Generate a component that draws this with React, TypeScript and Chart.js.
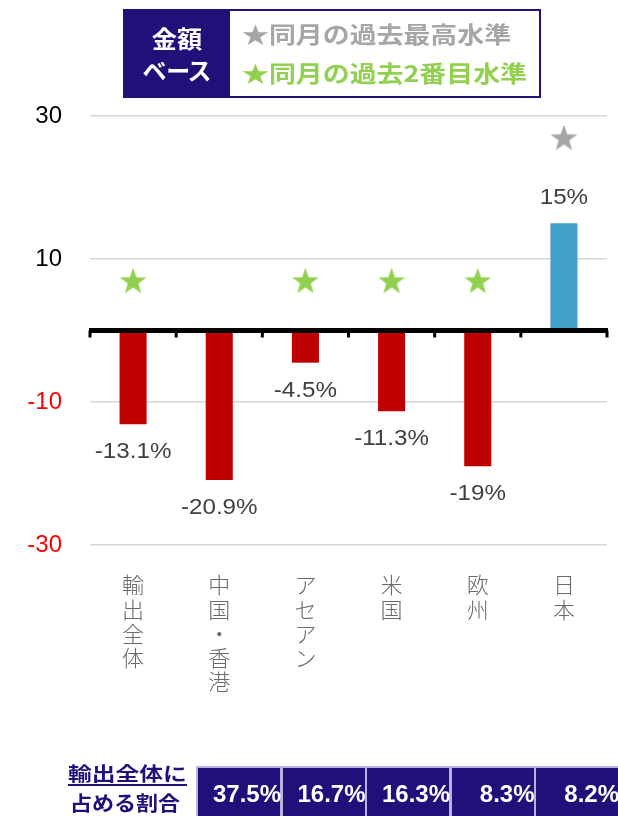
import React, { useEffect, useRef } from "react";
import { Chart, registerables } from "chart.js";

Chart.register(...registerables);

// ---- data ----
const categories = ["輸出全体", "中国・香港", "アセアン", "米国", "欧州", "日本"];
const values = [-13.1, -20.9, -4.5, -11.3, -19, 15];
const valueLabels = ["-13.1%", "-20.9%", "-4.5%", "-11.3%", "-19%", "15%"];
const secondHighStars: (number | null)[] = [7, null, 7, 7, 7, null];
const highestStars: (number | null)[] = [null, null, null, null, null, 27];
const yTicks = [-30, -10, 10, 30];
const shareLabels = ["37.5%", "16.7%", "16.3%", "8.3%", "8.2%"];
const legendHeader = ["金額", "ベース"];
const legendItems = ["★同月の過去最高水準", "★同月の過去2番目水準"];
const shareHeader = ["輸出全体に", "占める割合"];

// ---- styles ----
const NAVY = "#20107A";
const RED = "#C00000";
const BLUE = "#43A0C8";
const GREEN = "#92D050";
const GRAY = "#A6A6A6";
const CJK = '"Noto Sans CJK JP", "Noto Sans", sans-serif';
const LAT = '"Liberation Sans", Arial, sans-serif';

function makeStar(color: string, size: number): HTMLCanvasElement {
  const c = document.createElement("canvas");
  c.width = size;
  c.height = size;
  const g = c.getContext("2d")!;
  const R = size / 2 - 1;
  const r = R * 0.4;
  const cx = size / 2;
  const cy = size / 2 + 0.0955 * R;
  g.beginPath();
  for (let k = 0; k < 10; k++) {
    const ang = -Math.PI / 2 + (k * Math.PI) / 5;
    const rad = k % 2 === 0 ? R : r;
    g.lineTo(cx + rad * Math.cos(ang), cy + rad * Math.sin(ang));
  }
  g.closePath();
  g.fillStyle = color;
  g.fill();
  return c;
}

const overlayPlugin = {
  id: "overlay",
  afterDatasetsDraw(chart: any) {
    const { ctx, chartArea } = chart;
    const ys = chart.scales.y;
    const y0 = ys.getPixelForValue(0);
    ctx.save();
    ctx.fillStyle = "#000";
    ctx.fillRect(chartArea.left - 1, y0 - 2.5, chartArea.right - chartArea.left + 2, 5);
    const n = categories.length;
    for (let i = 0; i <= n; i++) {
      const px = chartArea.left + ((chartArea.right - chartArea.left) * i) / n;
      ctx.fillRect(px - 1.5, y0, 3, 7);
    }
    const meta = chart.getDatasetMeta(0);
    ctx.font = `22px ${LAT}`;
    ctx.fillStyle = "#404040";
    ctx.textAlign = "center";
    ctx.textBaseline = "middle";
    meta.data.forEach((bar: any, i: number) => {
      const v = values[i];
      const ty = v < 0 ? bar.y + 28 : bar.y - 25;
      ctx.save();
      ctx.translate(bar.x, ty);
      ctx.scale(1.1, 1);
      ctx.fillText(valueLabels[i], 0, 0);
      ctx.restore();
    });
    ctx.restore();
  },
};

function ChartCanvas() {
  const ref = useRef<HTMLCanvasElement>(null);
  useEffect(() => {
    if (!ref.current) return;
    const greenStar = makeStar(GREEN, 30);
    const grayStar = makeStar(GRAY, 30);
    const chart = new Chart(ref.current, {
      type: "bar",
      data: {
        labels: categories.map((c) => Array.from(c)),
        datasets: [
          {
            type: "bar",
            data: values,
            backgroundColor: values.map((v) => (v < 0 ? RED : BLUE)),
            barPercentage: 0.314,
            categoryPercentage: 1,
            order: 2,
          } as any,
          {
            type: "line",
            data: secondHighStars,
            showLine: false,
            pointStyle: greenStar,
            pointRadius: 15,
            clip: false,
            order: 1,
          } as any,
          {
            type: "line",
            data: highestStars,
            showLine: false,
            pointStyle: grayStar,
            pointRadius: 15,
            clip: false,
            order: 1,
          } as any,
        ],
      },
      options: {
        animation: false,
        responsive: false,
        devicePixelRatio: 1,
        events: [],
        layout: { autoPadding: false, padding: { top: 116, right: 11, bottom: 0, left: 0 } },
        plugins: {
          legend: { display: false },
          tooltip: { enabled: false },
        },
        scales: {
          x: {
            grid: { display: false, drawTicks: true, tickLength: 28 },
            border: { display: false },
            ticks: {
              padding: 0,
              maxRotation: 0,
              minRotation: 0,
              autoSkip: false,
              color: "#6A6A6A",
              font: { family: CJK, size: 22, lineHeight: 1.1, weight: "300" },
            },
            afterFit: (s: any) => {
              s.height = 271;
              s.paddingLeft = 0;
              s.paddingRight = 0;
            },
          },
          y: {
            min: -30,
            max: 30,
            afterBuildTicks: (s: any) => {
              s.ticks = yTicks.map((v) => ({ value: v }));
            },
            grid: { color: "#D6D6D6", lineWidth: 1.5, drawTicks: false },
            border: { display: false },
            ticks: {
              padding: 28,
              color: (c: any) => (c.tick && c.tick.value < 0 ? "#FF0000" : "#000000"),
              font: { family: LAT, size: 24 },
            },
            afterFit: (s: any) => {
              s.width = 90;
            },
          },
        },
      },
      plugins: [overlayPlugin],
    });
    return () => chart.destroy();
  }, []);
  return <canvas ref={ref} width={618} height={816} style={{ position: "absolute", left: 0, top: 0 }} />;
}

function Txt(props: {
  x: number;
  cy: number;
  text: string;
  size: number;
  color: string;
  align?: "left" | "center";
  sx?: number;
  family?: string;
  weight?: number;
  palt?: boolean;
}) {
  const { x, cy, text, size, color, align = "left", sx = 1, family = CJK, weight = 700, palt } = props;
  const h = size * 1.4;
  const style: React.CSSProperties = {
    position: "absolute",
    top: cy - h / 2,
    height: h,
    lineHeight: `${h}px`,
    fontFamily: family,
    fontSize: size,
    fontWeight: weight,
    color,
    whiteSpace: "nowrap",
    transform: `scaleX(${sx})`,
    transformOrigin: align === "left" ? "left center" : "center center",
    fontFeatureSettings: palt ? '"palt"' : undefined,
  };
  if (align === "left") {
    style.left = x;
  } else {
    style.left = x - 150;
    style.width = 300;
    style.textAlign = "center";
  }
  return <div style={style}>{text}</div>;
}

export default function App() {
  return (
    <div style={{ position: "absolute", left: 0, top: 0, width: 618, height: 816, overflow: "hidden", background: "#fff" }}>
      <ChartCanvas />
      {/* legend box */}
      <div
        style={{
          position: "absolute",
          left: 123,
          top: 9,
          width: 418,
          height: 89,
          border: `2px solid ${NAVY}`,
          boxSizing: "border-box",
          background: "#fff",
        }}
      >
        <div style={{ position: "absolute", left: 0, top: 0, width: 105, height: "100%", background: NAVY }} />
      </div>
      <Txt x={177} cy={38} text={legendHeader[0]} size={24} color="#fff" align="center" sx={1.05} />
      <Txt x={177} cy={70} text={legendHeader[1]} size={24} color="#fff" align="center" palt />
      <Txt x={242} cy={33} text={legendItems[0]} size={23} color={GRAY} sx={1.17} />
      <Txt x={242} cy={72} text={legendItems[1]} size={23} color={GREEN} sx={1.17} />

      {/* share table */}
      <Txt x={68} cy={773} text={shareHeader[0]} size={19} color={NAVY} sx={1.25} />
      <div style={{ position: "absolute", left: 68, top: 784, width: 119, height: 2, background: NAVY }} />
      <Txt x={70} cy={803} text={shareHeader[1]} size={20} color={NAVY} sx={1.1} />
      <div
        style={{
          position: "absolute",
          left: 196,
          top: 766,
          width: 424,
          height: 60,
          background: "#B9B2DF",
          padding: 2,
          boxSizing: "border-box",
          display: "flex",
          gap: 2.5,
        }}
      >
        {shareLabels.map((s, i) => (
          <div key={i} style={{ flex: 1, background: NAVY, position: "relative" }}>
            <div
              style={{
                position: "absolute",
                right: -1,
                top: 13.5,
                lineHeight: "24px",
                fontFamily: LAT,
                fontWeight: 700,
                fontSize: 24,
                color: "#fff",
                whiteSpace: "nowrap",
              }}
            >
              {s}
            </div>
          </div>
        ))}
      </div>
    </div>
  );
}
